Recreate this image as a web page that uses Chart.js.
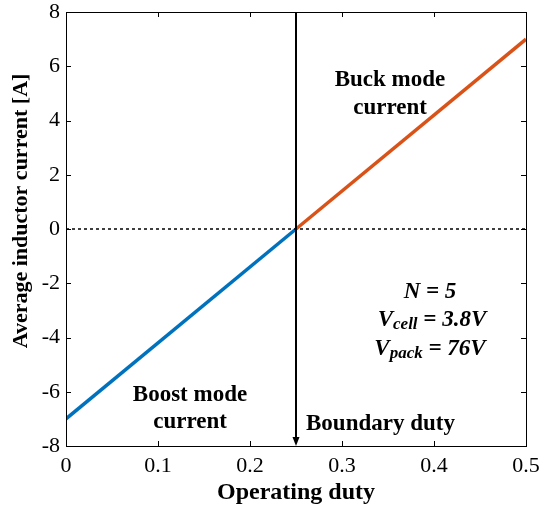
<!DOCTYPE html>
<html>
<head>
<meta charset="utf-8">
<title>Average inductor current vs operating duty</title>
<script src="https://cdn.jsdelivr.net/npm/chart.js@4.4.0/dist/chart.umd.min.js"></script>
<style>
body { margin: 0; background: #fff; }
#wrap { width: 540px; height: 513px; }
</style>
</head>
<body>
<div id="wrap"><canvas id="duty-chart"></canvas></div>
<script type="text/javascript">
// data
var boostDuty = [0, 0.25];
var boostCurrent = [-7, 0];
var buckDuty = [0.25, 0.5];
var buckCurrent = [0, 7];
var zeroDuty = [0, 0.5];
var zeroCurrent = [0, 0];
var boundaryDuty = 0.25;
var xTicks = [0, 0.1, 0.2, 0.3, 0.4, 0.5];
var yTicks = [-8, -6, -4, -2, 0, 2, 4, 6, 8];

function pts(xs, ys) {
  var out = [];
  for (var i = 0; i < xs.length; i++) out.push({x: xs[i], y: ys[i]});
  return out;
}

var serif = "'Liberation Serif', 'Times New Roman', serif";

// box, inward ticks, boundary arrow and text labels
var decor = {
  id: 'decor',
  afterDatasetsDraw: function(chart) {
    var ctx = chart.ctx, a = chart.chartArea;
    var xs = chart.scales.x, ys = chart.scales.y;
    ctx.save();
    ctx.strokeStyle = '#000';
    ctx.lineWidth = 1;
    ctx.strokeRect(a.left + 0.5, a.top + 0.5, a.right - a.left, a.bottom - a.top);
    ctx.beginPath();
    xTicks.forEach(function(v) {
      var px = Math.round(xs.getPixelForValue(v)) + 0.5;
      ctx.moveTo(px, a.bottom); ctx.lineTo(px, a.bottom - 5);
      ctx.moveTo(px, a.top); ctx.lineTo(px, a.top + 5);
    });
    yTicks.forEach(function(v) {
      var py = Math.round(ys.getPixelForValue(v)) + 0.5;
      ctx.moveTo(a.left, py); ctx.lineTo(a.left + 5, py);
      ctx.moveTo(a.right, py); ctx.lineTo(a.right - 5, py);
    });
    ctx.stroke();

    // boundary arrow
    var bx = Math.round(xs.getPixelForValue(boundaryDuty));
    ctx.lineWidth = 2;
    ctx.beginPath();
    ctx.moveTo(bx, a.top);
    ctx.lineTo(bx, a.bottom - 6);
    ctx.stroke();
    ctx.fillStyle = '#000';
    ctx.beginPath();
    ctx.moveTo(bx, a.bottom);
    ctx.lineTo(bx - 3.5, a.bottom - 9);
    ctx.lineTo(bx + 3.5, a.bottom - 9);
    ctx.closePath();
    ctx.fill();

    // y axis title (sits a little above the scale centre in the figure)
    ctx.save();
    ctx.translate(21, 211);
    ctx.rotate(-Math.PI / 2);
    ctx.font = 'bold 22px ' + serif;
    ctx.textAlign = 'center';
    ctx.textBaseline = 'middle';
    ctx.fillText('Average inductor current [A]', 0, 0);
    ctx.restore();

    // labels
    ctx.font = 'bold 23px ' + serif;
    ctx.textBaseline = 'middle';
    ctx.textAlign = 'center';
    ctx.fillText('Buck mode', 390, 80);
    ctx.fillText('current', 390, 108);
    ctx.fillText('Boost mode', 190, 395);
    ctx.fillText('current', 190, 422);
    ctx.textAlign = 'left';
    ctx.fillText('Boundary duty', 306, 424);

    // parameters with subscripts
    drawSub(ctx, 'N = 5', '', '', 430, 290);
    drawSub(ctx, 'V', 'cell', ' = 3.8V', 432, 318);
    drawSub(ctx, 'V', 'pack', ' = 76V', 430, 347);
    ctx.restore();
  }
};

function drawSub(ctx, main, sub, rest, cx, cy) {
  var big = 'italic bold 23px ' + serif;
  var small = 'italic bold 17px ' + serif;
  ctx.font = big; var w1 = ctx.measureText(main).width; var w3 = ctx.measureText(rest).width;
  ctx.font = small; var w2 = sub ? ctx.measureText(sub).width : 0;
  var x = cx - (w1 + w2 + w3) / 2;
  ctx.textAlign = 'left';
  ctx.textBaseline = 'alphabetic';
  var base = cy + 8;
  ctx.font = big; ctx.fillText(main, x, base); x += w1;
  if (sub) { ctx.font = small; ctx.fillText(sub, x, base + 3); x += w2; }
  ctx.font = big; ctx.fillText(rest, x, base);
}

new Chart(document.getElementById('duty-chart'), {
  type: 'scatter',
  data: {
    datasets: [
      {
        label: 'zero',
        data: pts(zeroDuty, zeroCurrent),
        showLine: true,
        borderColor: '#000',
        borderWidth: 1.5,
        borderDash: [3, 3],
        pointRadius: 0
      },
      {
        label: 'Boost mode current',
        data: pts(boostDuty, boostCurrent),
        showLine: true,
        borderColor: '#0072BD',
        borderWidth: 3.5,
        pointRadius: 0
      },
      {
        label: 'Buck mode current',
        data: pts(buckDuty, buckCurrent),
        showLine: true,
        borderColor: '#D95319',
        borderWidth: 3.5,
        pointRadius: 0
      }
    ]
  },
  options: {
    responsive: true,
    maintainAspectRatio: false,
    animation: false,
    layout: { padding: { top: 12, right: 14, left: 0, bottom: 0 } },
    plugins: { legend: { display: false }, tooltip: { enabled: false } },
    scales: {
      x: {
        type: 'linear',
        min: 0, max: 0.5,
        afterBuildTicks: function(s) { s.ticks = xTicks.map(function(v) { return {value: v}; }); },
        afterFit: function(s) { s.height = 67; s.paddingLeft = 0; s.paddingRight = 0; },
        grid: { display: false, drawTicks: false },
        border: { display: false },
        ticks: { color: '#000', padding: 7, maxRotation: 0, font: { family: serif, size: 22 },
          callback: function(v) { return String(v); } },
        title: { display: true, text: 'Operating duty', color: '#000',
          font: { family: serif, size: 24, weight: 'bold' }, padding: { top: 0, bottom: 6 } }
      },
      y: {
        type: 'linear',
        min: -8, max: 8,
        afterBuildTicks: function(s) { s.ticks = yTicks.map(function(v) { return {value: v}; }); },
        afterFit: function(s) { s.width = 66; s.paddingTop = 0; s.paddingBottom = 0; },
        grid: { display: false, drawTicks: false },
        border: { display: false },
        ticks: { color: '#000', padding: 6, font: { family: serif, size: 22 } },
        title: { display: false }
      }
    }
  },
  plugins: [decor]
});
</script>
</body>
</html>
